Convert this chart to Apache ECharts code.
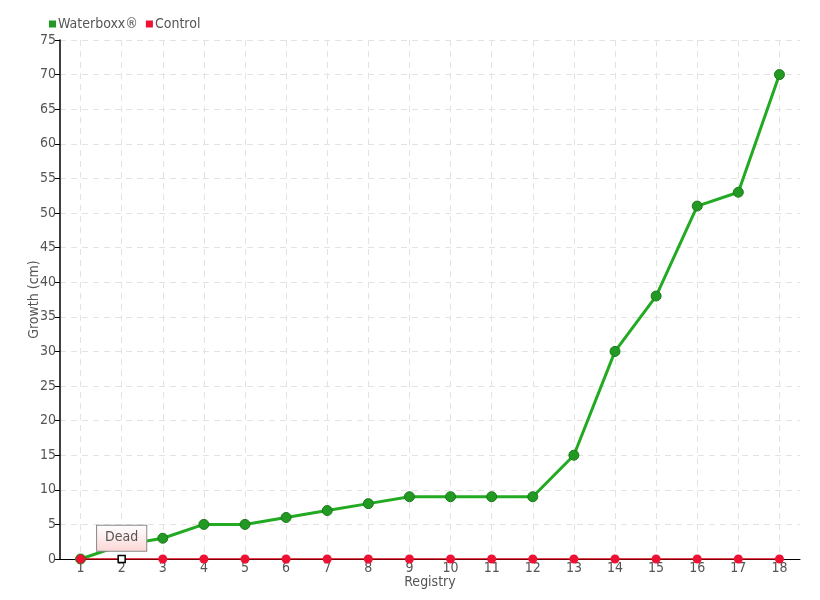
<!DOCTYPE html>
<html>
<head>
<meta charset="utf-8">
<script src="https://cdn.jsdelivr.net/npm/echarts@6/dist/echarts.min.js"></script>
<style>
    html, body { margin: 0; padding: 0; background: #fff; }
    #chart { width: 820px; height: 600px; }
</style>
</head>
<body>
<div id="chart"></div>
<script>
    // registry numbers on the x axis
    var registry = ['1','2','3','4','5','6','7','8','9','10','11','12','13','14','15','16','17','18'];
    // growth in cm
    var waterboxx = [0, 2, 3, 5, 5, 6, 7, 8, 9, 9, 9, 9, 15, 30, 38, 51, 53, 70];
    var control = [0, 0, 0, 0, 0, 0, 0, 0, 0, 0, 0, 0, 0, 0, 0, 0, 0, 0];
    var deadIndex = 1;
    var deadText = 'Dead';

    var font = '"DejaVu Sans Condensed", "Roboto Condensed", Roboto, sans-serif';
    var textColor = '#555';

    var controlData = control.map(function (v, i) {
        if (i !== deadIndex) return v;
        return {
            value: v,
            symbol: 'rect',
            symbolSize: 7,
            itemStyle: { color: '#fff', borderColor: '#000', borderWidth: 1.5 },
            label: {
                show: true,
                position: 'top',
                distance: 4,
                formatter: deadText,
                fontFamily: font,
                fontSize: 14,
                color: '#555',
                padding: [5, 8, 6, 8],
                borderColor: '#888',
                borderWidth: 1,
                backgroundColor: new echarts.graphic.LinearGradient(0, 0, 0, 1, [
                    { offset: 0, color: '#fff' },
                    { offset: 1, color: '#fcd6d6' }
                ])
            }
        };
    });

    var chart = echarts.init(document.getElementById('chart'));
    chart.setOption({
        animation: false,
        textStyle: { fontFamily: font },
        legend: {
            left: 44,
            top: 12,
            itemWidth: 7,
            itemHeight: 7,
            itemGap: 8,
            icon: 'rect',
            itemStyle: { borderWidth: 0 },
            textStyle: { fontFamily: font, fontSize: 14, color: textColor, padding: [0, 0, 0, -3] },
            data: ['Waterboxx®', 'Control']
        },
        grid: { left: 60, right: 20, top: 40, bottom: 41 },
        xAxis: {
            type: 'category',
            data: registry,
            name: 'Registry',
            nameLocation: 'middle',
            nameGap: 16,
            nameMoveOverlap: false,
            nameTextStyle: { fontFamily: font, fontSize: 14, color: textColor },
            axisLine: { lineStyle: { color: '#000', width: 1 } },
            axisTick: { alignWithLabel: true, length: 5, lineStyle: { color: '#000' } },
            axisLabel: { fontFamily: font, fontSize: 14, color: textColor, margin: 2 },
            splitLine: {
                show: true,
                alignWithLabel: true,
                lineStyle: { color: '#e3e3e3', type: [6, 5] }
            }
        },
        yAxis: {
            type: 'value',
            min: 0,
            max: 75,
            interval: 5,
            name: 'Growth (cm)',
            nameLocation: 'middle',
            nameGap: 19,
            nameMoveOverlap: false,
            nameTextStyle: { fontFamily: font, fontSize: 14, color: textColor },
            axisLine: { show: true, lineStyle: { color: '#000', width: 1.5 } },
            axisTick: { show: true, length: 5, lineStyle: { color: '#000' } },
            axisLabel: { fontFamily: font, fontSize: 14, color: textColor, margin: 4 },
            splitLine: { show: true, lineStyle: { color: '#e3e3e3', type: [6, 5] } }
        },
        series: [
            {
                name: 'Waterboxx®',
                type: 'line',
                data: waterboxx,
                color: '#22aa22',
                symbol: 'circle',
                symbolSize: 10,
                lineStyle: { color: '#22aa22', width: 3 },
                itemStyle: { color: '#229922', borderColor: '#1a7a1a', borderWidth: 1 },
                z: 2
            },
            {
                name: 'Control',
                type: 'line',
                data: controlData,
                color: '#ee1133',
                symbol: 'circle',
                symbolSize: 9,
                lineStyle: { color: '#dd0011', width: 1.5 },
                itemStyle: { color: '#ee1133' },
                z: 3
            }
        ]
    });
</script>
</body>
</html>
